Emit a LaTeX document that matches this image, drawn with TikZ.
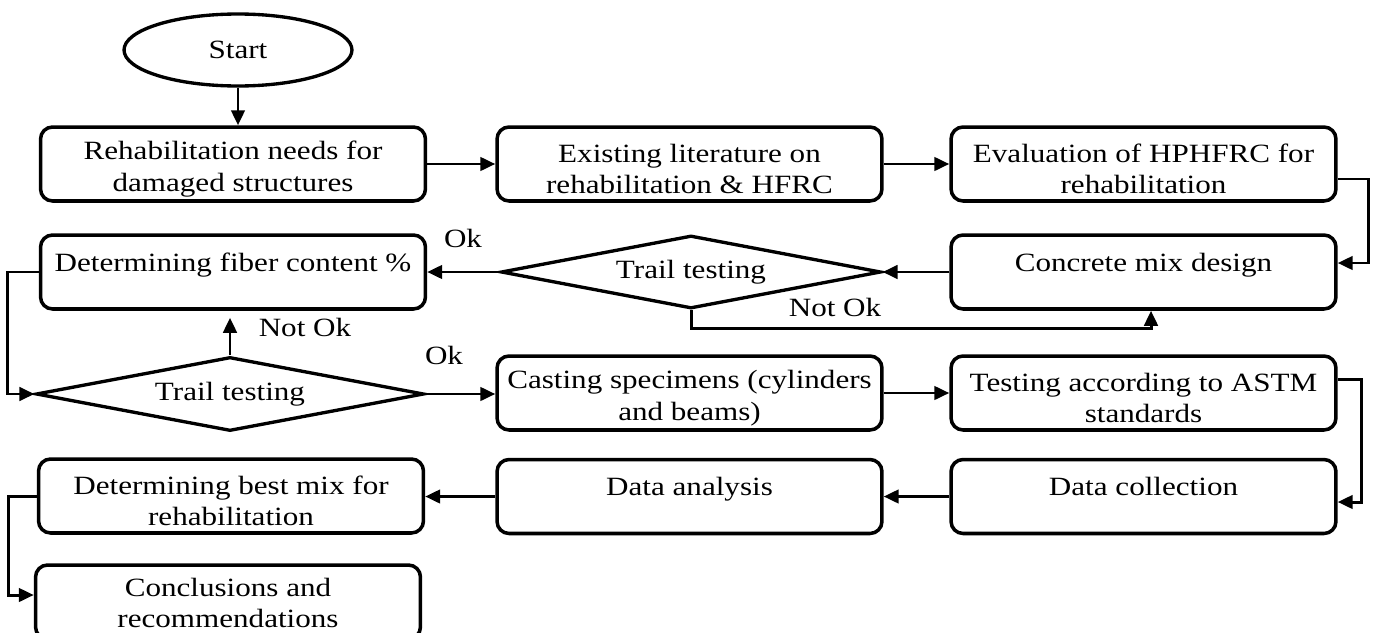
\documentclass[tikz,border=0pt]{standalone}
\usepackage{fontspec}
\setmainfont{Liberation Serif}[FakeStretch=1.18]
\usetikzlibrary{shapes.geometric,arrows.meta}

\begin{document}
\begin{tikzpicture}[x=0.02cm,y=-0.02cm,
	font=\fontsize{15}{18}\selectfont,
	box/.style={draw,line width=2pt,rounded corners=0.24cm,minimum width=7.7cm,minimum height=1.48cm,align=center,inner sep=2pt,text height=1.2cm},
	oneline/.style={text height=0.7em,text depth=0.27cm},
	decision/.style={draw,diamond,aspect=5,line width=1.9pt,minimum width=7.6cm,minimum height=1.46cm,inner sep=0pt},
	flow/.style={line width=1.7pt,-{Triangle[length=0.3cm,width=0.27cm]}}]
	\useasboundingbox (0,0) rectangle (1375,632);

	%start
	\node[draw,ellipse,line width=1.9pt,minimum width=4.56cm,minimum height=1.44cm,inner sep=0pt] (start) at (238,50) {Start};

	%first row
	\node[box] (needs) at (233,164) {Rehabilitation needs for\\damaged structures};
	\node[box] (literature) at (689.5,164) {Existing literature on\\rehabilitation \& HFRC};
	\node[box] (evaluation) at (1143.5,164) {Evaluation of HPHFRC for\\rehabilitation};

	%second row
	\node[box,oneline] (mixdesign) at (1143.5,272) {Concrete mix design};
	\node[decision] (trailA) at (691,272) {Trail testing};
	\node[box,oneline] (fiber) at (233,272) {Determining fiber content \%};

	%third row
	\node[decision,minimum width=7.76cm,minimum height=1.48cm] (trailB) at (230,394) {Trail testing};
	\node[box] (casting) at (689.5,393) {Casting specimens (cylinders\\and beams)};
	\node[box] (astm) at (1143.5,393) {Testing according to ASTM\\standards};

	%fourth row
	\node[box,oneline] (collection) at (1143.5,496.5) {Data collection};
	\node[box,oneline] (analysis) at (689.5,496.5) {Data analysis};
	\node[box] (bestmix) at (231,496) {Determining best mix for\\rehabilitation};

	%last box
	\node[box,text height=1.04cm] (conclusions) at (228,602) {Conclusions and\\recommendations};

	%labels
	\node (okA) at (463,238) {Ok}; %upper Ok
	\node (notokA) at (835,307) {Not Ok}; %upper Not Ok
	\node (notokB) at (305,327) {Not Ok}; %lower Not Ok
	\node (okB) at (444,355) {Ok}; %lower Ok

	%arrows
	\draw[flow] (start.south) -- (start.south |- needs.north);
	\draw[flow] (needs) -- (literature);
	\draw[flow] (literature) -- (evaluation);
	\draw[flow] ([yshift=-0.3cm]evaluation.east) -- ++(0.62cm,0) |- ([yshift=0.18cm]mixdesign.east);
	\draw[flow] (mixdesign) -- (trailA);
	\draw[flow] (trailA) -- (fiber);
	\draw[flow] (trailA.south) -- ++(0,-0.36cm) -| ([xshift=0.15cm]mixdesign.south);
	\draw[flow] (fiber.west) -- ++(-0.62cm,0) |- (trailB.west);
	\draw[flow,shorten >=0.14cm] (trailB.north) -- (trailB.north |- fiber.south);
	\draw[flow] (trailB.east) -- (trailB.east -| casting.west);
	\draw[flow] (casting) -- (astm);
	\draw[flow] ([yshift=0.28cm]astm.east) -- ++(0.48cm,0) |- ([yshift=-0.11cm]collection.east);
	\draw[flow] (collection) -- (analysis);
	\draw[flow] (analysis.west) -- (analysis.west -| bestmix.east);
	\draw[flow] (bestmix.west) -- ++(-0.56cm,0) |- ([yshift=0.14cm]conclusions.west);
\end{tikzpicture}
\end{document}
